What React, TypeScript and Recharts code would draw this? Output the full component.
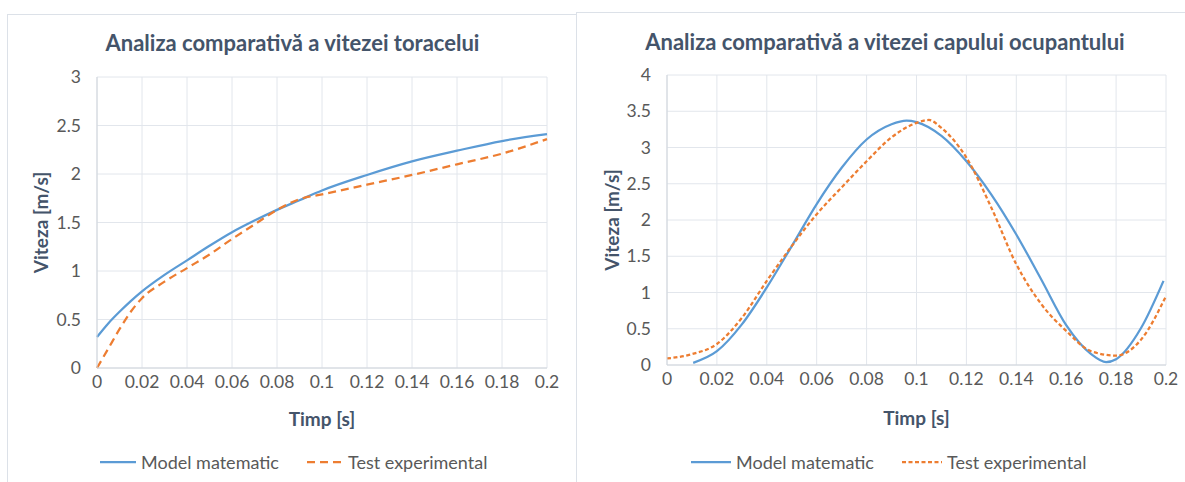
import { LineChart, Line, XAxis, YAxis, CartesianGrid } from "recharts";

// Analiza comparativa a vitezei toracelui
const TORAX_MODEL_T = [0, 0.005, 0.01, 0.015, 0.02, 0.03, 0.04, 0.05, 0.06, 0.07, 0.08, 0.09, 0.1, 0.12, 0.14, 0.16, 0.18, 0.2];
const TORAX_MODEL_V = [0.32, 0.46, 0.58, 0.69, 0.79, 0.96, 1.11, 1.26, 1.4, 1.52, 1.63, 1.73, 1.83, 1.99, 2.13, 2.24, 2.34, 2.41];
const TORAX_TEST_T = [0, 0.005, 0.01, 0.015, 0.02, 0.03, 0.04, 0.05, 0.06, 0.07, 0.08, 0.09, 0.1, 0.12, 0.14, 0.16, 0.18, 0.2];
const TORAX_TEST_V = [0, 0.2, 0.4, 0.58, 0.72, 0.89, 1.03, 1.17, 1.33, 1.48, 1.63, 1.74, 1.79, 1.89, 1.99, 2.1, 2.21, 2.36];

// Analiza comparativa a vitezei capului ocupantului
const CAP_MODEL_T = [0.0105, 0.02, 0.03, 0.04, 0.05, 0.06, 0.07, 0.08, 0.09, 0.096, 0.1, 0.11, 0.12, 0.13, 0.14, 0.15, 0.16, 0.17, 0.176, 0.18, 0.19, 0.199];
const CAP_MODEL_V = [0.03, 0.19, 0.56, 1.07, 1.64, 2.22, 2.72, 3.11, 3.32, 3.37, 3.35, 3.16, 2.81, 2.35, 1.8, 1.18, 0.55, 0.15, 0.04, 0.08, 0.51, 1.16];
const CAP_TEST_T = [0, 0.01, 0.02, 0.03, 0.04, 0.05, 0.06, 0.07, 0.08, 0.09, 0.1, 0.105, 0.11, 0.12, 0.13, 0.14, 0.15, 0.16, 0.17, 0.18, 0.19, 0.2];
const CAP_TEST_V = [0.09, 0.15, 0.29, 0.65, 1.16, 1.64, 2.08, 2.45, 2.81, 3.14, 3.34, 3.38, 3.27, 2.86, 2.17, 1.39, 0.84, 0.47, 0.19, 0.13, 0.35, 0.95];

const X_TICKS = [0, 0.02, 0.04, 0.06, 0.08, 0.1, 0.12, 0.14, 0.16, 0.18, 0.2];
const TORAX_Y_TICKS = [0, 0.5, 1, 1.5, 2, 2.5, 3];
const CAP_Y_TICKS = [0, 0.5, 1, 1.5, 2, 2.5, 3, 3.5, 4];

const SERIES = ["Model matematic", "Test experimental"];

const BLUE = "#5B9BD5";
const ORANGE = "#ED7D31";
const GRID = "#E2E6EC";
const TEXT = "#595959";
const TITLE = "#44546A";
const FONT = "Lato, 'Open Sans', sans-serif";

const toPoints = (t: number[], v: number[]) => t.map((x, i) => ({ t: x, v: v[i] }));
const fmt = (n: number) => String(Math.round(n * 100) / 100);

interface PanelProps {
  title: string;
  left: number;
  top: number;
  boxWidth: number;
  chartWidth: number;
  plot: { left: number; top: number; width: number; height: number };
  yTicks: number[];
  yLabelX: number;
  xLabelGap: number;
  model: { t: number; v: number }[];
  test: { t: number; v: number }[];
  dash: string;
  titleTop: number;
  legendTop: number;
  legendLeft: number;
  legendGap: number;
  legendLine: number;
}

function Panel(p: PanelProps) {
  const chartHeight = 440;
  const xAxisHeight = chartHeight - p.plot.top - p.plot.height;
  const yMax = p.yTicks[p.yTicks.length - 1];
  return (
    <div
      style={{
        position: "absolute",
        left: p.left,
        top: p.top,
        width: p.boxWidth,
        height: 520,
        border: "1.5px solid #DCE1E8",
        background: "#fff",
        fontFamily: FONT,
      }}
    >
      <div
        style={{
          position: "absolute",
          top: p.titleTop,
          left: 0,
          width: p.boxWidth,
          textAlign: "center",
          fontSize: 22,
          fontWeight: 700,
          color: TITLE,
          lineHeight: "26px",
        }}
      >
        {p.title}
      </div>
      <LineChart
        width={p.chartWidth}
        height={chartHeight}
        margin={{ top: p.plot.top, right: p.chartWidth - p.plot.left - p.plot.width, bottom: 0, left: 0 }}
      >
        <CartesianGrid stroke={GRID} strokeWidth={1} />
        <XAxis
          dataKey="t"
          type="number"
          domain={[0, 0.2]}
          ticks={X_TICKS}
          tickFormatter={fmt}
          allowDuplicatedCategory={false}
          height={xAxisHeight}
          stroke="#D0D5DC"
          tickLine={false}
          tickSize={6}
          tickMargin={2}
          tick={{ fill: TEXT, fontSize: 17.5, fontFamily: FONT }}
          label={{
            value: "Timp [s]",
            position: "insideTop",
            offset: p.xLabelGap,
            fill: TITLE,
            fontSize: 19,
            fontWeight: 700,
            fontFamily: FONT,
          }}
        />
        <YAxis
          type="number"
          domain={[0, yMax]}
          ticks={p.yTicks}
          width={p.plot.left}
          stroke="#D0D5DC"
          tickLine={false}
          tickSize={6}
          tickMargin={10}
          tick={{ fill: TEXT, fontSize: 17.5, fontFamily: FONT }}
          label={{
            value: "Viteza [m/s]",
            angle: -90,
            position: "insideLeft",
            offset: p.yLabelX,
            fill: TITLE,
            fontSize: 19,
            fontWeight: 700,
            fontFamily: FONT,
            style: { textAnchor: "middle" },
          }}
        />
        <Line
          data={p.model}
          dataKey="v"
          type="monotone"
          stroke={BLUE}
          strokeWidth={2.25}
          dot={false}
          isAnimationActive={false}
        />
        <Line
          data={p.test}
          dataKey="v"
          type="monotone"
          stroke={ORANGE}
          strokeWidth={2.25}
          strokeDasharray={p.dash}
          dot={false}
          isAnimationActive={false}
        />
      </LineChart>
      {/* Legend */}
      <div
        style={{
          position: "absolute",
          top: p.legendTop,
          left: p.legendLeft,
          display: "flex",
          alignItems: "center",
          gap: p.legendGap,
          fontSize: 18,
          color: TEXT,
          whiteSpace: "nowrap",
        }}
      >
        {SERIES.map((name, i) => (
          <div key={name} style={{ display: "flex", alignItems: "center", gap: 5 }}>
            <svg width={p.legendLine} height={6}>
              <line
                x1={0}
                y1={3}
                x2={p.legendLine}
                y2={3}
                stroke={i === 0 ? BLUE : ORANGE}
                strokeWidth={2.25}
                strokeDasharray={i === 0 ? undefined : p.dash}
              />
            </svg>
            <span>{name}</span>
          </div>
        ))}
      </div>
    </div>
  );
}

export default function App() {
  return (
    <div style={{ position: "fixed", left: 0, top: 0, width: 1185, height: 482, overflow: "hidden", background: "#fff" }}>
      <Panel
        title="Analiza comparativă a vitezei toracelui"
        left={7}
        top={14}
        boxWidth={569}
        chartWidth={568}
        plot={{ left: 89, top: 62, width: 450, height: 291 }}
        yTicks={TORAX_Y_TICKS}
        yLabelX={33}
        xLabelGap={45}
        model={toPoints(TORAX_MODEL_T, TORAX_MODEL_V)}
        test={toPoints(TORAX_TEST_T, TORAX_TEST_V)}
        dash="8 5"
        titleTop={15}
        legendTop={436}
        legendLeft={92}
        legendGap={28}
        legendLine={36}
      />
      <Panel
        title="Analiza comparativă a vitezei capului ocupantului"
        left={576}
        top={12}
        boxWidth={616}
        chartWidth={608}
        plot={{ left: 90, top: 62, width: 499, height: 290 }}
        yTicks={CAP_Y_TICKS}
        yLabelX={35}
        xLabelGap={47}
        model={toPoints(CAP_MODEL_T, CAP_MODEL_V)}
        test={toPoints(CAP_TEST_T, CAP_TEST_V)}
        dash="4 2.5"
        titleTop={16}
        legendTop={438}
        legendLeft={114}
        legendGap={28}
        legendLine={40}
      />
    </div>
  );
}
